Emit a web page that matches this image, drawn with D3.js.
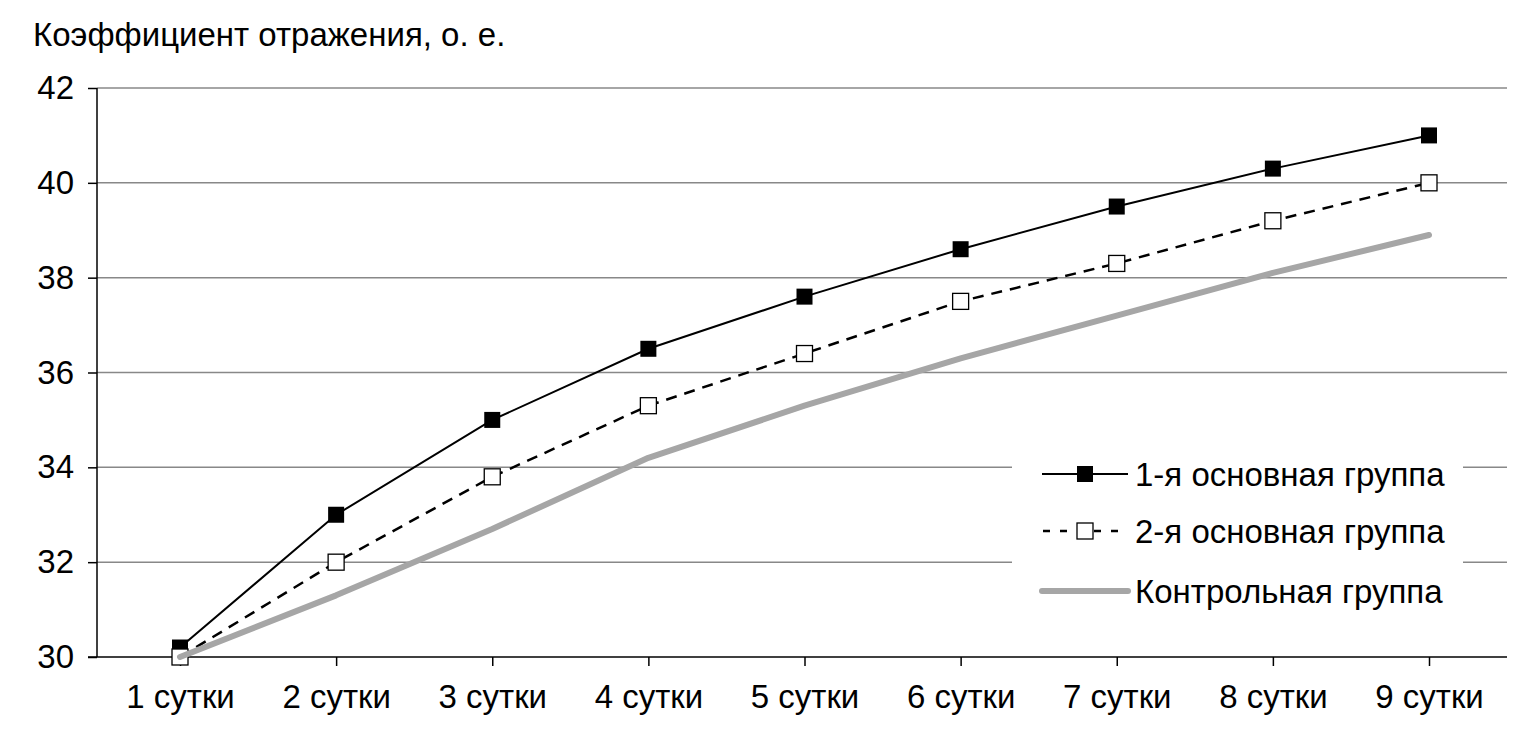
<!DOCTYPE html>
<html><head><meta charset="utf-8">
<script src="https://cdn.jsdelivr.net/npm/d3@7/dist/d3.min.js"></script>
<style>body{margin:0;background:#fff}svg{display:block;font-family:"Liberation Sans",Arial,sans-serif}</style>
</head><body><svg id="c" width="1529" height="732"></svg>
<script>
const categories = ["1 сутки","2 сутки","3 сутки","4 сутки","5 сутки","6 сутки","7 сутки","8 сутки","9 сутки"];
const group1 = [30.2, 33.0, 35.0, 36.5, 37.6, 38.6, 39.5, 40.3, 41.0];
const group2 = [30.0, 32.0, 33.8, 35.3, 36.4, 37.5, 38.3, 39.2, 40.0];
const control = [30.0, 31.3, 32.7, 34.2, 35.3, 36.3, 37.2, 38.1, 38.9];
const seriesNames = ["1-я основная группа","2-я основная группа","Контрольная группа"];
const yTicks = [30, 32, 34, 36, 38, 40, 42];
const yTitle = "Коэффициент отражения, о. е.";

(function(){
const svg = d3.select("#c");
const pL = 97, pR = 1507, pT = 88, pB = 657;
const x = d3.scalePoint().domain(categories).range([180, 1429]);
const y = d3.scaleLinear().domain([30, 42]).range([pB, pT]);
const fs = 33;
const ff = "Liberation Sans, Arial, sans-serif";

// gridlines
svg.append("g").selectAll("line").data(yTicks.filter(d => d > 30)).join("line")
  .attr("x1", pL).attr("x2", pR).attr("y1", d => y(d)).attr("y2", d => y(d))
  .attr("stroke", "#888").attr("stroke-width", 1.5);

// y axis
const ya = svg.append("g").attr("transform", `translate(${pL},0)`)
  .call(d3.axisLeft(y).tickValues(yTicks).tickSize(9).tickPadding(14).tickFormat(d3.format("d")));
ya.select(".domain").attr("d", `M0,${pT}V${pB}`).attr("stroke", "#000").attr("stroke-width", 1.5);
ya.selectAll(".tick line").attr("stroke", "#000").attr("stroke-width", 1.5);
ya.selectAll("text").attr("font-size", fs).attr("fill", "#000").attr("font-family", ff);

// x axis
const xa = svg.append("g").attr("transform", `translate(0,${pB})`)
  .call(d3.axisBottom(x).tickSize(9).tickPadding(19).tickSizeOuter(0));
xa.select(".domain").attr("d", `M${pL - 9},0H${pR}`).attr("stroke", "#000").attr("stroke-width", 1.5);
xa.selectAll(".tick line").attr("stroke", "#000").attr("stroke-width", 1.5);
xa.selectAll("text").attr("font-size", fs).attr("fill", "#000").attr("font-family", ff);

// title
svg.append("text").attr("x", 33).attr("y", 46).attr("font-size", 33).attr("fill", "#000").attr("font-family", ff).text(yTitle);

// legend background
svg.append("rect").attr("x", 1012).attr("y", 445).attr("width", 451).attr("height", 170).attr("fill", "#fff");

const line = d3.line().x((d, i) => x(categories[i])).y(d => y(d));
const ms = 16;

// series 1
svg.append("path").datum(group1).attr("d", line).attr("fill", "none").attr("stroke", "#000").attr("stroke-width", 2);
svg.append("g").selectAll("rect").data(group1).join("rect")
  .attr("x", (d, i) => x(categories[i]) - ms/2).attr("y", d => y(d) - ms/2)
  .attr("width", ms).attr("height", ms).attr("fill", "#000");

// series 2
const dash = "11,8";
svg.append("path").datum(group2).attr("d", line).attr("fill", "none").attr("stroke", "#000").attr("stroke-width", 2.5).attr("stroke-dasharray", dash);
svg.append("g").selectAll("rect").data(group2).join("rect")
  .attr("x", (d, i) => x(categories[i]) - ms/2).attr("y", d => y(d) - ms/2)
  .attr("width", ms).attr("height", ms).attr("fill", "#fff").attr("stroke", "#000").attr("stroke-width", 1.3);

// control
svg.append("path").datum(control).attr("d", line).attr("fill", "none").attr("stroke", "#a6a6a6").attr("stroke-width", 6).attr("stroke-linecap", "round").attr("stroke-linejoin", "round");

// legend
const lx1 = 1042, lx2 = 1128, lm = 1085, tx = 1135;
const rows = [474, 531, 591];
const lg = svg.append("g");
lg.append("line").attr("x1", lx1).attr("x2", lx2).attr("y1", rows[0]).attr("y2", rows[0]).attr("stroke", "#000").attr("stroke-width", 2);
lg.append("rect").attr("x", lm - ms/2).attr("y", rows[0] - ms/2).attr("width", ms).attr("height", ms).attr("fill", "#000");
lg.append("line").attr("x1", lx1).attr("x2", lx2).attr("y1", rows[1]).attr("y2", rows[1]).attr("stroke", "#000").attr("stroke-width", 2.5).attr("stroke-dasharray", "7,10").attr("stroke-dashoffset", -1);
lg.append("rect").attr("x", lm - ms/2).attr("y", rows[1] - ms/2).attr("width", ms).attr("height", ms).attr("fill", "#fff").attr("stroke", "#000").attr("stroke-width", 1.3);
lg.append("line").attr("x1", lx1).attr("x2", lx2).attr("y1", rows[2]).attr("y2", rows[2]).attr("stroke", "#a6a6a6").attr("stroke-width", 6).attr("stroke-linecap", "round");
lg.selectAll("text.l").data(seriesNames).join("text").attr("class", "l")
  .attr("x", tx).attr("y", (d, i) => rows[i]).attr("dy", "0.35em")
  .attr("font-size", fs).attr("fill", "#000").attr("font-family", ff).text(d => d);
})();
</script></body></html>
